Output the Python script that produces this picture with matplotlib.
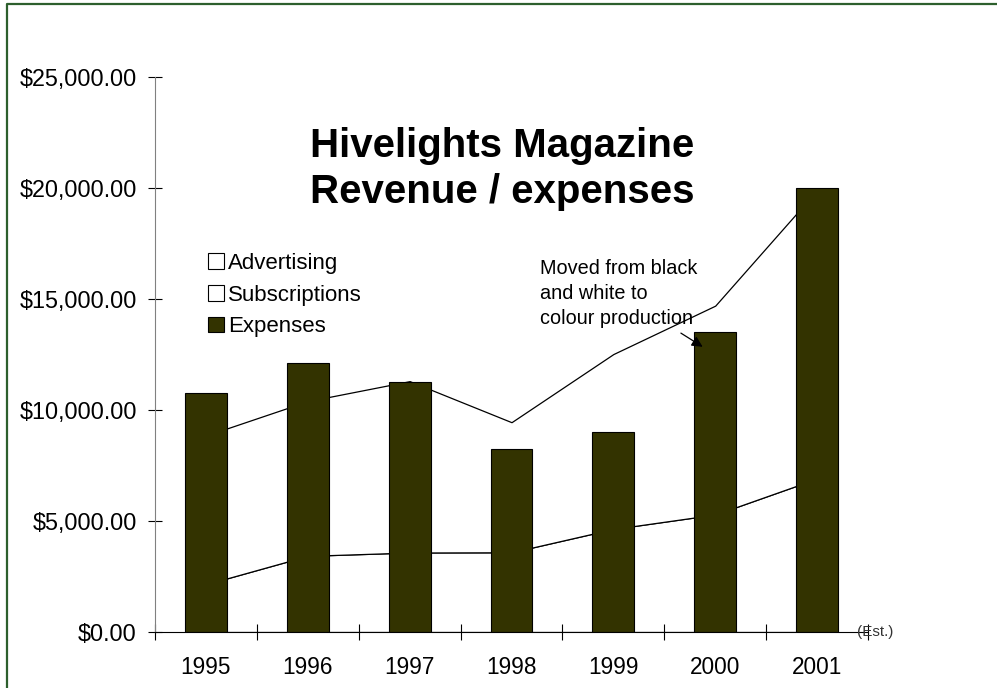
import matplotlib
matplotlib.use("Agg")
import matplotlib.pyplot as plt
from matplotlib.patches import Patch
from matplotlib.lines import Line2D
from matplotlib.ticker import FuncFormatter, FixedLocator

plt.rcParams["font.family"] = ["Liberation Sans", "DejaVu Sans"]

years         = ["1995", "1996", "1997", "1998", "1999", "2000", "2001"]
advertising   = [2150, 3430, 3580, 3590, 4640, 5290, 6910]
subscriptions = [6700, 6970, 7720, 5860, 7880, 9410, 12990]
expenses      = [10750, 12100, 11250, 8250, 9000, 13500, 20000]

BAR_COLOR = "#333300"

fig = plt.figure(figsize=(9.97, 6.88), dpi=100)
ax = fig.add_axes([0.1555, 0.0814, 0.7151, 0.8067])

x = list(range(len(years)))

# plochy (biele) + stĺpce
ax.stackplot(x, advertising, subscriptions, colors=["white", "white"],
             edgecolor="black", linewidth=0.9, zorder=1)
ax.bar(x, expenses, width=0.41, color=BAR_COLOR, edgecolor="black",
       linewidth=0.8, zorder=2)

ax.set_xlim(-0.5, len(years) - 0.5)
ax.set_ylim(0, 25000)
ax.set_yticks(range(0, 25001, 5000))
ax.yaxis.set_major_formatter(FuncFormatter(lambda v, p: f"${v:,.2f}"))
ax.set_xticks(x)
ax.set_xticklabels(years)
ax.xaxis.set_minor_locator(FixedLocator([i - 0.5 for i in range(len(years) + 1)]))

for s in ("top", "right"):
    ax.spines[s].set_visible(False)
ax.spines["left"].set_color("#808080")
ax.spines["bottom"].set_color("black")

ax.tick_params(axis="y", direction="inout", length=10, width=0.8,
               labelsize=16.8, pad=8, colors="black")
ax.tick_params(axis="x", which="major", length=0, labelsize=16.3, pad=17.5)
ax.tick_params(axis="x", which="minor", direction="inout", length=11.5, width=0.8)

# (Est.) pri konci osi x
ax.text(0.9846, 0, "(Est.)", transform=ax.get_yaxis_transform(),
        fontsize=11, va="center", ha="left", color="#333333", clip_on=False)

# titulok
fig.text(0.5035, 1 - 156.7 / 688, "Hivelights Magazine", fontsize=29,
         fontweight="bold", ha="center", va="baseline")
fig.text(0.5035, 1 - 203.3 / 688, "Revenue / expenses", fontsize=29,
         fontweight="bold", ha="center", va="baseline")

# poznámka so šípkou
for i, line in enumerate(["Moved from black", "and white to", "colour production"]):
    fig.text(540 / 997, 1 - (274 + 25 * i) / 688, line, fontsize=14.3,
             ha="left", va="baseline")
ax.annotate("", xy=(4.9, 12780), xytext=(4.64, 13530),
            arrowprops=dict(arrowstyle="-|>", color="black", lw=0.9,
                            mutation_scale=16), zorder=5)

# legenda
handles = [
    Patch(facecolor="white", edgecolor="black", linewidth=0.8),
    Patch(facecolor="white", edgecolor="black", linewidth=0.8),
    Patch(facecolor=BAR_COLOR, edgecolor="black", linewidth=0.8),
]
fig.legend(handles, ["Advertising", "Subscriptions", "Expenses"],
           loc="upper left", bbox_to_anchor=(208 / 997, 1 - 253 / 688),
           frameon=False, fontsize=16, handlelength=0.7, handleheight=0.7,
           handletextpad=0.2, labelspacing=0.48, borderpad=0, borderaxespad=0)

# zelený rámček
fig.add_artist(Line2D([7 / 997, 7 / 997, 1.05], [-0.05, 1 - 4.3 / 688, 1 - 4.3 / 688],
                      transform=fig.transFigure, color="#2d5f2d", linewidth=1.6))

fig.savefig("out.png", dpi=100)
